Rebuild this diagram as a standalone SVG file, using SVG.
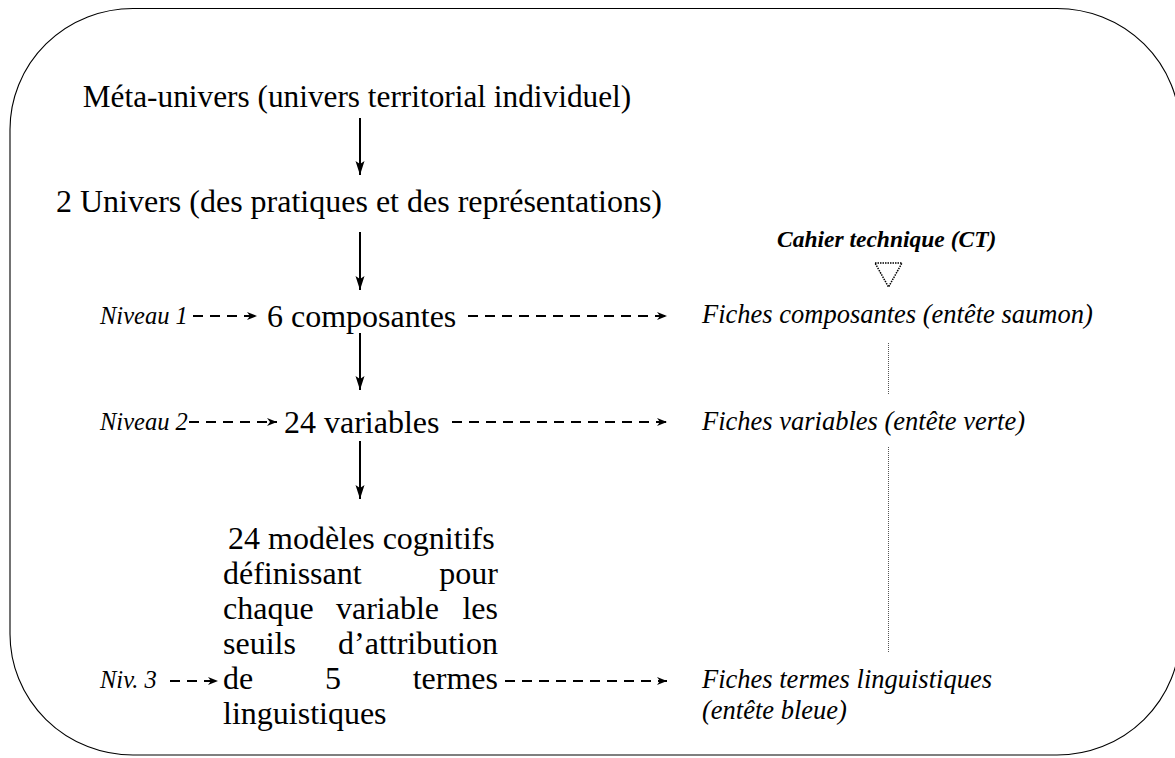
<svg xmlns="http://www.w3.org/2000/svg" width="1175" height="758" viewBox="0 0 1175 758">
<defs>
<marker id="solidHead" markerUnits="userSpaceOnUse" markerWidth="16" markerHeight="12" refX="14" refY="5" orient="auto" overflow="visible">
<path d="M14,5 L0,0.5 L3,5 L0,9.5 Z" fill="#000"/>
</marker>
<marker id="dashHead" markerUnits="userSpaceOnUse" markerWidth="12" markerHeight="10" refX="10" refY="4" orient="auto" overflow="visible">
<path d="M10,4 L0,0 L3,4 L0,8 Z" fill="#000"/>
</marker>
</defs>
<style>
.main{font-family:"Liberation Serif","Times New Roman",serif;font-size:32px;fill:#000}
.lvl{font-family:"Liberation Serif","Times New Roman",serif;font-size:24.5px;font-style:italic;fill:#000}
.fiche{font-family:"Liberation Serif","Times New Roman",serif;font-size:26.5px;font-style:italic;fill:#000}
.ct{font-family:"Liberation Serif","Times New Roman",serif;font-size:23.5px;font-style:italic;font-weight:bold;fill:#000}
.solid{stroke:#000;stroke-width:2;fill:none;marker-end:url(#solidHead)}
.dash{stroke:#000;stroke-width:2.2;fill:none;stroke-dasharray:10 7;marker-end:url(#dashHead)}
.dot{stroke:#555;stroke-width:1;fill:none;stroke-dasharray:1 1}
</style>
<rect id="frame" x="10" y="8.5" width="1170" height="746.5" rx="123" ry="121" fill="#fff" stroke="#000" stroke-width="1.1"/>

<g id="meta"><text class="main" x="357" y="107" text-anchor="middle" style="font-size:31.3px">Méta-univers (univers territorial individuel)</text></g>
<g id="univers"><text class="main" x="359" y="212" text-anchor="middle">2 Univers (des pratiques et des représentations)</text></g>

<g id="composantes"><text class="main" x="267" y="327">6 composantes</text></g>
<g id="variables"><text class="main" x="284" y="433">24 variables</text></g>
<g id="modeles">
<text class="main" x="228" y="549">24 modèles cognitifs</text>
<text class="main" x="223" y="584">définissant</text>
<text class="main" x="498" y="584" text-anchor="end">pour</text>
<text class="main" x="223" y="619">chaque</text>
<text class="main" x="336" y="619">variable</text>
<text class="main" x="498" y="619" text-anchor="end">les</text>
<text class="main" x="223" y="654">seuils</text>
<text class="main" x="498" y="654" text-anchor="end">d’attribution</text>
<text class="main" x="223" y="689">de</text>
<text class="main" x="325" y="689">5</text>
<text class="main" x="498" y="689" text-anchor="end">termes</text>
<text class="main" x="223" y="724">linguistiques</text>
</g>

<g id="niveau1"><text class="lvl" x="100" y="324">Niveau 1</text></g>
<g id="niveau2"><text class="lvl" x="100" y="430">Niveau 2</text></g>
<g id="niveau3"><text class="lvl" x="100" y="688">Niv. 3</text></g>

<g id="cahier">
<text class="ct" x="777" y="247">Cahier technique (CT)</text>
<polygon points="875,263 902,263 888.5,287" fill="none" stroke="#000" stroke-width="1.5" stroke-dasharray="1.5 1"/>
</g>
<g id="fiche1"><text class="fiche" x="702" y="323">Fiches composantes (entête saumon)</text></g>
<g id="fiche2"><text class="fiche" x="702" y="430">Fiches variables (entête verte)</text></g>
<g id="fiche3">
<text class="fiche" x="702" y="688">Fiches termes linguistiques</text>
<text class="fiche" x="702" y="719">(entête bleue)</text>
</g>

<g id="connectors">
<line class="solid" x1="360" y1="118" x2="360" y2="175"/>
<line class="solid" x1="360" y1="232" x2="360" y2="290"/>
<line class="solid" x1="360" y1="333" x2="360" y2="390"/>
<line class="solid" x1="360" y1="441" x2="360" y2="499"/>
<line class="dash" x1="193" y1="316" x2="257" y2="316"/>
<line class="dash" x1="468" y1="316" x2="667" y2="316"/>
<line class="dash" x1="189" y1="422" x2="277" y2="422"/>
<line class="dash" x1="452" y1="422" x2="667" y2="422"/>
<line class="dash" x1="170" y1="681" x2="218" y2="681"/>
<line class="dash" x1="505" y1="681" x2="667" y2="681"/>
<line class="dot" x1="888.5" y1="343" x2="888.5" y2="395"/>
<line class="dot" x1="888.5" y1="447" x2="888.5" y2="652"/>
</g>
</svg>
